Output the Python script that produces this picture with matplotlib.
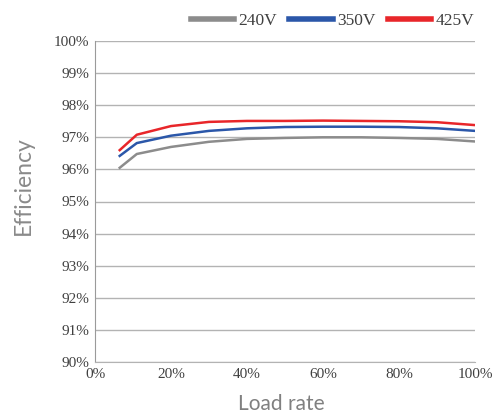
import matplotlib.pyplot as plt
from matplotlib.ticker import FuncFormatter

load = [6.5, 11, 20, 30, 40, 50, 60, 70, 80, 90, 100]
eff_240 = [96.05, 96.48, 96.70, 96.86, 96.95, 96.98, 97.00, 97.00, 96.98, 96.95, 96.87]
eff_350 = [96.42, 96.82, 97.05, 97.20, 97.28, 97.32, 97.33, 97.33, 97.32, 97.28, 97.20]
eff_425 = [96.60, 97.08, 97.35, 97.48, 97.51, 97.51, 97.52, 97.51, 97.50, 97.47, 97.38]

series = [("240V", eff_240, "#8c8c8c"), ("350V", eff_350, "#2b57a9"), ("425V", eff_425, "#e8262a")]

fig = plt.figure(figsize=(4.98, 4.17), dpi=100)
ax = fig.add_axes([95 / 498, 1 - 362 / 417, 380 / 498, 321 / 417])

for name, vals, col in series:
    ax.plot(load, vals, color=col, lw=1.8, label=name)

ax.set_xlim(0, 100)
ax.set_ylim(90, 100)
ax.set_xticks(range(0, 101, 20))
ax.set_yticks(range(90, 101))
ax.xaxis.set_major_formatter(FuncFormatter(lambda v, p: f"{v:.0f}%"))
ax.yaxis.set_major_formatter(FuncFormatter(lambda v, p: f"{v:.0f}%"))
ax.grid(axis="y", color="#b3b3b3", lw=1)
ax.set_axisbelow(True)
for s in ["top", "right"]:
    ax.spines[s].set_visible(False)
ax.spines["left"].set_color("#9a9a9a")
ax.spines["bottom"].set_color("#b3b3b3")
ax.tick_params(length=0, labelsize=11, colors="#404040", pad=4)
for lab in ax.get_xticklabels() + ax.get_yticklabels():
    lab.set_fontfamily("Liberation Serif")

ax.set_xlabel("Load rate", fontsize=15, color="#808080", family="Lato")
ax.set_ylabel("Efficiency", fontsize=16.5, color="#8a8a8a", family="Lato")
ax.xaxis.set_label_coords(0.49, -0.1)
ax.yaxis.set_label_coords(-0.16, 0.55)

leg = ax.legend(loc="lower right", bbox_to_anchor=(1.016, 1.015), ncol=3, frameon=False,
                handlelength=2.5, columnspacing=0.7, handletextpad=0.25, borderaxespad=0,
                prop={"family": "Liberation Serif", "size": 12.5})
for h in leg.get_lines():
    h.set_linewidth(4)
for t in leg.get_texts():
    t.set_color("#404040")

fig.savefig("out.png", dpi=100)
